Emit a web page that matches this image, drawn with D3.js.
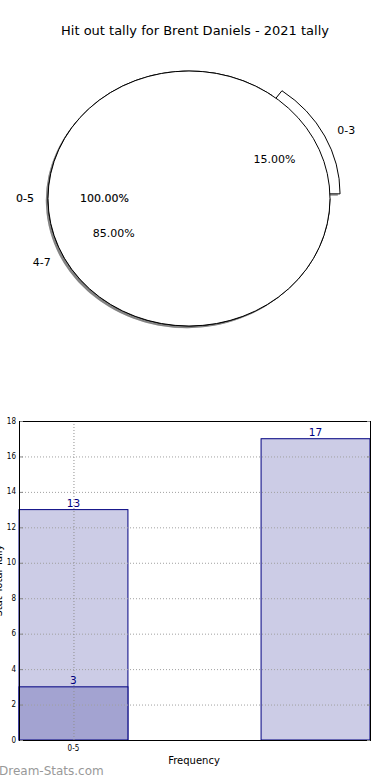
<!DOCTYPE html>
<html lang="en">
<head>
    <meta charset="UTF-8">
    <title>Hit out tally for Brent Daniels - 2021 tally</title>
    <script src="https://d3js.org/d3.v7.min.js"></script>
    <style>
        body { margin: 0; background: #fff; }
        svg { display: block; font-family: "DejaVu Sans", sans-serif; }
        .pie-label { font-size: 11px; fill: #000; }
        .tick-label { font-size: 8px; fill: #000; }
        .bar-label { font-size: 10.5px; fill: #000080; text-anchor: middle; }
    </style>
</head>
<body>
    <svg id="chart"></svg>

    <script>
        // Pie data (two pies drawn over each other)
        const pieCatsA = ["0-3", "4-7"];
        const pieValsA = [15, 85];
        const pieExplodeA = [0.08, 0];
        const pieCatsB = ["0-5"];
        const pieValsB = [100];

        // Bar data
        const barPositions = [0, 1];
        const lightValues = [13, 17];
        const darkPositions = [0];
        const darkValues = [3];
        const xTickPositions = [0];
        const xTickLabels = ["0-5"];
        const yTicks = [0, 2, 4, 6, 8, 10, 12, 14, 16, 18];

        const width = 390;
        const height = 780;

        const svg = d3.select("#chart")
            .attr("width", width)
            .attr("height", height);

        // Title
        svg.append("text")
            .attr("x", 195)
            .attr("y", 30)
            .attr("text-anchor", "middle")
            .attr("dominant-baseline", "central")
            .style("font-size", "13px")
            .text("Hit out tally for Brent Daniels - 2021 tally");

        // ---- Pie ----
        const cx = 189, cy = 198.5, rx = 141, ry = 127.5;

        // matplotlib style: start at 3 o'clock, counterclockwise
        const pie = d3.pie().sort(null)
            .startAngle(Math.PI / 2)
            .endAngle(Math.PI / 2 - 2 * Math.PI);

        const arc = d3.arc().innerRadius(0).outerRadius(1);

        const wedgesA = pie(pieValsA).map((d, i) => ({ ...d, cat: pieCatsA[i], explode: pieExplodeA[i] }));
        const wedgesB = pie(pieValsB).map((d, i) => ({ ...d, cat: pieCatsB[i], explode: 0 }));
        const allWedges = wedgesA.concat(wedgesB);

        function mid(d) { return (d.startAngle + d.endAngle) / 2; }
        function shift(d) {
            const a = mid(d);
            return [d.explode * rx * Math.sin(a), -d.explode * ry * Math.cos(a)];
        }

        const pieG = svg.append("g");

        // shadows first
        pieG.selectAll(".shadow")
            .data(allWedges)
            .enter()
            .append("path")
            .attr("d", arc)
            .attr("transform", d => {
                const s = shift(d);
                return `translate(${cx + s[0] - 2.2},${cy + s[1] + 2.2}) scale(${rx},${ry})`;
            })
            .attr("fill", "#4d4d4d")
            .attr("fill-opacity", 0.45);

        // wedges
        pieG.selectAll(".wedge")
            .data(allWedges)
            .enter()
            .append("path")
            .attr("d", arc)
            .attr("transform", d => {
                const s = shift(d);
                return `translate(${cx + s[0]},${cy + s[1]}) scale(${rx},${ry})`;
            })
            .attr("fill", "#fff")
            .attr("stroke", "#000")
            .attr("stroke-width", 1)
            .attr("vector-effect", "non-scaling-stroke");

        // labels
        function drawLabels(wedges, bold) {
            const total = d3.sum(wedges, w => w.value);
            wedges.forEach(d => {
                const s = shift(d);
                const a = mid(d);
                const lx = cx + s[0] + 1.1 * rx * Math.sin(a);
                const ly = cy + s[1] - 1.1 * ry * Math.cos(a);
                const px = cx + s[0] + 0.6 * rx * Math.sin(a);
                const py = cy + s[1] - 0.6 * ry * Math.cos(a);
                const pct = (d.value / total * 100).toFixed(2) + "%";
                const anchor = Math.sin(a) > 0.0001 ? "start" : (Math.sin(a) < -0.0001 ? "end" : "middle");
                const t1 = pieG.append("text").attr("class", "pie-label")
                    .attr("x", lx).attr("y", ly)
                    .attr("text-anchor", anchor)
                    .attr("dominant-baseline", "central")
                    .text(d.cat);
                const t2 = pieG.append("text").attr("class", "pie-label")
                    .attr("x", px).attr("y", py)
                    .attr("text-anchor", "middle")
                    .attr("dominant-baseline", "central")
                    .text(pct);
                if (bold) {
                    t1.attr("stroke", "#000").attr("stroke-width", 0.15);
                    t2.attr("stroke", "#000").attr("stroke-width", 0.15);
                }
            });
        }
        drawLabels(wedgesA, false);
        drawLabels(wedgesB, true);

        // ---- Bars ----
        const plotLeft = 19, plotRight = 370, plotTop = 421, plotBottom = 740;
        const barW = 0.45;
        const x = d3.scaleLinear().domain([-barW / 2, 1 + barW / 2]).range([plotLeft, plotRight]);
        const y = d3.scaleLinear().domain([0, 18]).range([plotBottom, plotTop]);

        const barG = svg.append("g");

        barG.selectAll(".light")
            .data(barPositions)
            .enter()
            .append("rect")
            .attr("x", (d) => x(d - barW / 2))
            .attr("y", (d, i) => y(lightValues[i]))
            .attr("width", x(barW) - x(0))
            .attr("height", (d, i) => y(0) - y(lightValues[i]))
            .attr("fill", "#cccce6")
            .attr("stroke", "#000080")
            .attr("stroke-width", 1);

        barG.selectAll(".dark")
            .data(darkPositions)
            .enter()
            .append("rect")
            .attr("x", (d) => x(d - barW / 2))
            .attr("y", (d, i) => y(darkValues[i]))
            .attr("width", x(barW) - x(0))
            .attr("height", (d, i) => y(0) - y(darkValues[i]))
            .attr("fill", "#a3a3d1")
            .attr("stroke", "#000080")
            .attr("stroke-width", 1);

        // grid
        barG.selectAll(".hgrid")
            .data(yTicks.slice(1, -1))
            .enter()
            .append("line")
            .attr("x1", plotLeft).attr("x2", plotRight)
            .attr("y1", d => y(d) + 0.5).attr("y2", d => y(d) + 0.5)
            .attr("stroke", "#a0a0a0")
            .attr("stroke-dasharray", "1,2");

        barG.selectAll(".vgrid")
            .data(xTickPositions)
            .enter()
            .append("line")
            .attr("x1", d => x(d) + 0.5).attr("x2", d => x(d) + 0.5)
            .attr("y1", plotTop).attr("y2", plotBottom)
            .attr("stroke", "#909090")
            .attr("stroke-dasharray", "1,2");

        // bar value labels
        barG.selectAll(".lab-light")
            .data(barPositions)
            .enter()
            .append("text")
            .attr("class", "bar-label")
            .attr("x", d => x(d))
            .attr("y", (d, i) => y(lightValues[i]) - 3)
            .text((d, i) => lightValues[i]);

        barG.selectAll(".lab-dark")
            .data(darkPositions)
            .enter()
            .append("text")
            .attr("class", "bar-label")
            .attr("x", d => x(d))
            .attr("y", (d, i) => y(darkValues[i]) - 3)
            .text((d, i) => darkValues[i]);

        // spines
        barG.append("rect")
            .attr("x", plotLeft + 0.5).attr("y", plotTop + 0.5)
            .attr("width", plotRight - plotLeft).attr("height", plotBottom - plotTop)
            .attr("fill", "none")
            .attr("stroke", "#000")
            .attr("stroke-width", 1);

        // y ticks (inward, both sides)
        yTicks.forEach(t => {
            barG.append("line")
                .attr("x1", plotLeft + 1).attr("x2", plotLeft + 4)
                .attr("y1", y(t) + 0.5).attr("y2", y(t) + 0.5)
                .attr("stroke", "#888");
            barG.append("line")
                .attr("x1", plotRight - 3).attr("x2", plotRight)
                .attr("y1", y(t) + 0.5).attr("y2", y(t) + 0.5)
                .attr("stroke", "#888");
            barG.append("text")
                .attr("class", "tick-label")
                .attr("x", plotLeft - 3)
                .attr("y", y(t))
                .attr("text-anchor", "end")
                .attr("dominant-baseline", "central")
                .style("font-family", "'DejaVu Sans Condensed', 'DejaVu Sans', sans-serif")
                .text(t);
        });

        xTickPositions.forEach((p, i) => {
            barG.append("text")
                .attr("class", "tick-label")
                .attr("x", x(p))
                .attr("y", plotBottom + 8)
                .attr("text-anchor", "middle")
                .attr("dominant-baseline", "central")
                .style("font-family", "'DejaVu Sans Condensed', 'DejaVu Sans', sans-serif")
                .text(xTickLabels[i]);
        });

        // axis labels
        svg.append("text")
            .attr("x", 194)
            .attr("y", 760)
            .attr("text-anchor", "middle")
            .attr("dominant-baseline", "central")
            .style("font-size", "10px")
            .text("Frequency");

        svg.append("text")
            .attr("transform", `translate(2,${(plotTop + plotBottom) / 2}) rotate(-90)`)
            .attr("text-anchor", "middle")
            .style("font-size", "10px")
            .text("Stat Total Tally");

        // watermark
        svg.append("text")
            .attr("x", -1)
            .attr("y", 775)
            .style("font-size", "12px")
            .attr("fill", "#999")
            .text("Dream-Stats.com");
    </script>
</body>
</html>
